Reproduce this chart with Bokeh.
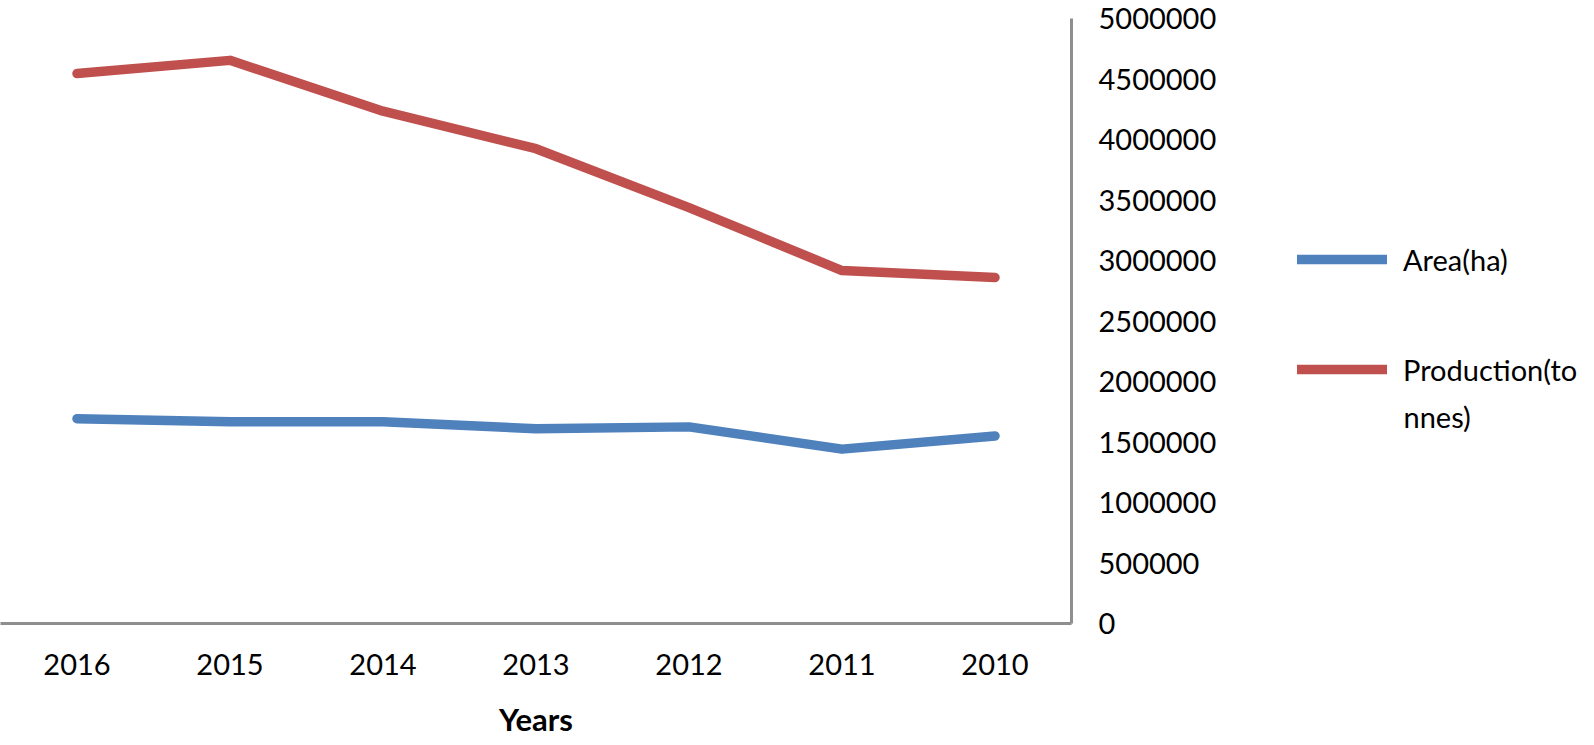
from bokeh.plotting import figure
from bokeh.layouts import row
from bokeh.models import Range1d, FixedTicker, NumeralTickFormatter, Legend, LegendItem, Label
from bokeh.embed import file_html
from bokeh.resources import INLINE

years = ["2016", "2015", "2014", "2013", "2012", "2011", "2010"]
area_ha = [1693000, 1667000, 1667000, 1609000, 1625000, 1441000, 1550000]
production_tonnes = [4545000, 4654000, 4234000, 3924000, 3437000, 2917000, 2859000]
y_ticks = [0, 500000, 1000000, 1500000, 2000000, 2500000, 3000000, 3500000, 4000000, 4500000, 5000000]

x_pos = [i + 0.5 for i in range(len(years))]
FONT = "Lato"
FS = "29px"
AXIS_COLOR = "#8e8e8e"
BLUE = "#4F81BD"
RED = "#C0504D"

p = figure(width=1240, height=745, output_backend="svg", toolbar_location=None,
           x_range=Range1d(0, len(years)), y_range=Range1d(0, 5000000),
           y_axis_location="right",
           min_border_left=0, min_border_top=18, min_border_right=169, min_border_bottom=122)
p.outline_line_color = None
p.grid.visible = False

p.line(x_pos, area_ha, line_color=BLUE, line_width=9.5, line_cap="round", line_join="round")
p.line(x_pos, production_tonnes, line_color=RED, line_width=9.5, line_cap="round", line_join="round")

xa = p.xaxis[0]
xa.ticker = FixedTicker(ticks=x_pos)
xa.major_label_overrides = {xv: yr for xv, yr in zip(x_pos, years)}
xa.axis_label = "Years"
xa.axis_label_text_font = FONT
xa.axis_label_text_font_size = "31px"
xa.axis_label_text_font_style = "bold"
xa.axis_label_text_color = "#000000"
xa.axis_label_standoff = 22

ya = p.yaxis[0]
ya.ticker = FixedTicker(ticks=y_ticks)
ya.formatter = NumeralTickFormatter(format="0")

for ax in (xa, ya):
    ax.axis_line_color = AXIS_COLOR
    ax.axis_line_width = 3
    ax.major_tick_line_color = None
    ax.minor_tick_line_color = None
    ax.major_label_text_font = FONT
    ax.major_label_text_font_size = FS
    ax.major_label_text_color = "#000000"
xa.major_label_standoff = 24
ya.major_label_standoff = 21

# legend panel (keys only: each renderer holds a single empty (NaN) point)
nan = float("nan")
lg = figure(width=354, height=745, output_backend="svg", toolbar_location=None,
            x_axis_type=None, y_axis_type=None, x_range=Range1d(0, 1), y_range=Range1d(0, 1),
            min_border_left=0, min_border_right=0, min_border_top=0, min_border_bottom=0)
lg.outline_line_color = None
lg.grid.visible = False
key_area = lg.line([nan], [nan], line_color=BLUE, line_width=9.5, line_cap="round")
key_prod = lg.line([nan], [nan], line_color=RED, line_width=9.5, line_cap="round")

legend = Legend(items=[LegendItem(label="Area(ha)", renderers=[key_area]),
                       LegendItem(label="Production(to", renderers=[key_prod])],
                location=(57, 234), padding=0, margin=0, spacing=70,
                glyph_width=90, glyph_height=40, label_height=40, label_standoff=16,
                label_text_font=FONT, label_text_font_size=FS, label_text_color="#000000",
                border_line_color=None, background_fill_alpha=0)
lg.add_layout(legend, "center")
lg.add_layout(Label(x=163, y=207, x_units="screen", y_units="screen", text="nnes)",
                    text_font=FONT, text_font_size=FS, text_color="#000000", text_baseline="middle"))

open("out.html", "w").write(file_html(row(p, lg), INLINE))
